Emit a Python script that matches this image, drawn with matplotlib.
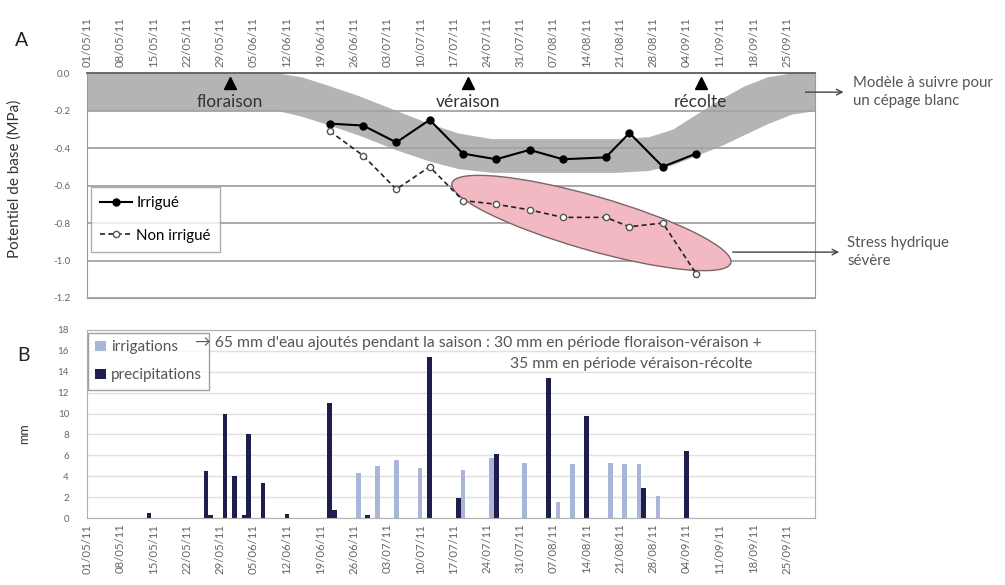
import datetime as dt

import numpy as np
import matplotlib.pyplot as plt
import matplotlib.dates as mdates
from matplotlib.patches import Ellipse
from matplotlib.transforms import ScaledTranslation

plt.rcParams["font.family"] = ["Lato", "DejaVu Sans"]

YEAR = 2011

# predawn leaf water potential (MPa), weekly measurements
SAMPLE_DAYS = ["21/06", "28/06", "05/07", "12/07", "19/07", "26/07",
               "02/08", "09/08", "18/08", "23/08", "30/08", "06/09"]
IRRIGATED = [-0.27, -0.28, -0.37, -0.25, -0.43, -0.46,
             -0.41, -0.46, -0.45, -0.32, -0.50, -0.43]
NON_IRRIGATED = [-0.31, -0.44, -0.62, -0.50, -0.68, -0.70,
                 -0.73, -0.77, -0.77, -0.82, -0.80, -1.07]

# reference band for a white grape variety
BAND_DAYS = ["01/05", "10/06", "15/06", "20/06", "27/06", "05/07", "12/07",
             "18/07", "25/07", "20/08", "27/08", "01/09", "06/09", "11/09",
             "16/09", "21/09", "26/09", "01/10"]
BAND_TOP = [0.0, 0.0, -0.02, -0.06, -0.12, -0.20, -0.27,
            -0.32, -0.35, -0.35, -0.34, -0.30, -0.22, -0.14,
            -0.07, -0.02, 0.0, 0.0]
BAND_BOTTOM = [-0.20, -0.20, -0.23, -0.27, -0.33, -0.41, -0.47,
               -0.51, -0.53, -0.53, -0.52, -0.49, -0.44, -0.39,
               -0.33, -0.27, -0.22, -0.20]

STAGES = ["floraison", "véraison", "récolte"]
STAGE_DAYS = ["31/05", "20/07", "07/09"]

# water supply (mm)
IRRIG_DAYS = ["27/06", "01/07", "05/07", "10/07", "19/07", "25/07", "01/08",
              "08/08", "11/08", "19/08", "22/08", "25/08", "29/08"]
IRRIG_MM = [4.3, 5.0, 5.6, 4.8, 4.6, 5.7, 5.3, 1.5, 5.2, 5.3, 5.2, 5.2, 2.1]
RAIN_DAYS = ["14/05", "26/05", "27/05", "30/05", "01/06", "03/06", "04/06",
             "07/06", "12/06", "21/06", "22/06", "29/06", "12/07", "18/07",
             "26/07", "06/08", "14/08", "26/08", "04/09"]
RAIN_MM = [0.5, 4.5, 0.3, 10.0, 4.0, 0.3, 8.0, 3.4, 0.4, 11.0, 0.8, 0.3,
           15.4, 1.9, 6.1, 13.4, 9.8, 2.9, 6.4]

# highlighted zone (centre day, centre value)
STRESS_CENTER = ("15/08", -0.80)

TICK_GREY = "#666666"
TEXT_GREY = "#555555"


def to_dates(days):
    return [dt.datetime.strptime(f"{d}/{YEAR}", "%d/%m/%Y") for d in days]


def style_dates(ax):
    ax.set_xlim(dt.datetime(YEAR, 5, 1), dt.datetime(YEAR, 10, 1))
    ax.xaxis.set_major_locator(mdates.WeekdayLocator(byweekday=mdates.SU))
    ax.xaxis.set_major_formatter(mdates.DateFormatter("%d/%m/%y"))
    ax.tick_params(axis="x", labelrotation=90, labelsize=8.2, length=0,
                   colors=TICK_GREY, pad=4)
    ax.tick_params(axis="y", labelsize=7, length=0, colors=TICK_GREY, pad=12)


fig = plt.figure(figsize=(10.05, 5.85), dpi=100)
ax_a = fig.add_axes([0.0866, 0.4906, 0.7244, 0.3846])
ax_b = fig.add_axes([0.0866, 0.1145, 0.7244, 0.3214])

# ---- A: water potential
style_dates(ax_a)
ax_a.xaxis.tick_top()
ax_a.set_ylim(-1.2, 0.0)
ax_a.set_yticks(np.arange(-1.2, 0.01, 0.2))
ax_a.yaxis.set_major_formatter(
    plt.FuncFormatter(lambda v, _: f"{v:.1f}".replace("-0.0", "0.0")))
ax_a.set_axisbelow(True)
ax_a.yaxis.grid(True, color="#a3a3a3", lw=1.3)
for side in ["left", "right", "bottom"]:
    ax_a.spines[side].set_color("#9a9a9a")
ax_a.spines["top"].set_color("#606060")
ax_a.spines["top"].set_linewidth(1.3)

ax_a.fill_between(to_dates(BAND_DAYS), BAND_TOP, BAND_BOTTOM,
                  color="#b4b4b4", lw=0, zorder=0.3)

cx = mdates.date2num(to_dates([STRESS_CENTER[0]])[0])
stress = Ellipse((0, 0), 2.9, 0.54, angle=-16,
                 transform=fig.dpi_scale_trans
                 + ScaledTranslation(cx, STRESS_CENTER[1], ax_a.transData),
                 facecolor="#f2b9c2", edgecolor="#7d6468", lw=1.0, zorder=1.5)
ax_a.add_patch(stress)

samples = to_dates(SAMPLE_DAYS)
ax_a.plot(samples, IRRIGATED, "-o", color="black", lw=1.5, ms=5,
          label="Irrigué", zorder=3)
ax_a.plot(samples, NON_IRRIGATED, "--o", color="#222222", lw=1.2, ms=4.5,
          dashes=(3, 2), mfc="white", mec="#555555", label="Non irrigué",
          zorder=3)

stage_dates = to_dates(STAGE_DAYS)
ax_a.plot(stage_dates, [-0.055] * len(STAGES), "^", color="black", ms=8.5,
          zorder=4)
for name, day in zip(STAGES, stage_dates):
    ax_a.text(day, -0.155, name, ha="center", va="center", fontsize=12.5,
              color="#333333", zorder=4)

leg = ax_a.legend(loc="upper left", bbox_to_anchor=(0.006, 0.494),
                  borderaxespad=0, fontsize=10.8, frameon=True,
                  fancybox=False, handlelength=2.1, borderpad=0.6,
                  labelspacing=1.25, handletextpad=0.3)
leg.get_frame().set_edgecolor("#9a9a9a")
leg.get_frame().set_linewidth(1.0)

ax_a.set_ylabel("Potentiel de base (MPa)", fontsize=11, color="#333333")
ax_a.yaxis.set_label_coords(-0.09, 0.53)

ax_a.annotate("", xy=(1.043, 0.915), xytext=(0.983, 0.915),
              xycoords="axes fraction",
              arrowprops=dict(arrowstyle="->", color="#444444", lw=1.0),
              annotation_clip=False)
ax_a.text(1.052, 0.915, "Modèle à suivre pour\nun cépage blanc",
          transform=ax_a.transAxes, fontsize=10.8, color=TEXT_GREY,
          va="center", ha="left", linespacing=1.35)
ax_a.annotate("", xy=(1.037, 0.204), xytext=(0.883, 0.204),
              xycoords="axes fraction",
              arrowprops=dict(arrowstyle="->", color="#444444", lw=1.0),
              annotation_clip=False)
ax_a.text(1.044, 0.204, "Stress hydrique\nsévère",
          transform=ax_a.transAxes, fontsize=10.8, color=TEXT_GREY,
          va="center", ha="left", linespacing=1.35)

# ---- B: irrigation and rainfall
style_dates(ax_b)
ax_b.set_ylim(0, 18)
ax_b.set_yticks(np.arange(0, 18.1, 2))
ax_b.tick_params(axis="y", pad=13)
ax_b.set_axisbelow(True)
ax_b.yaxis.grid(True, color="#e0e0e0", lw=1.0)
for side in ax_b.spines:
    ax_b.spines[side].set_color("#b0b0b0")

ax_b.bar(to_dates(IRRIG_DAYS), IRRIG_MM, width=1.0, color="#a9b6da",
         label="irrigations", zorder=2)
ax_b.bar(to_dates(RAIN_DAYS), RAIN_MM, width=1.0, color="#1e1e4c",
         label="precipitations", zorder=2)

leg_b = ax_b.legend(loc="upper left", bbox_to_anchor=(0.001, 0.985),
                    borderaxespad=0, fontsize=11, frameon=True,
                    fancybox=False, handlelength=0.7, handleheight=0.7,
                    handletextpad=0.3, borderpad=0.5, labelspacing=0.9)
leg_b.get_frame().set_edgecolor("#8a8a8a")
for t in leg_b.get_texts():
    t.set_color(TEXT_GREY)

ax_b.text(0.148, 0.93,
          "→ 65 mm d'eau ajoutés pendant la saison : 30 mm en période "
          "floraison-véraison +",
          transform=ax_b.transAxes, fontsize=11.3, color=TEXT_GREY,
          va="center", ha="left", zorder=6)
ax_b.text(0.747, 0.82, "35 mm en période véraison-récolte",
          transform=ax_b.transAxes, fontsize=11.3, color=TEXT_GREY,
          va="center", ha="center", zorder=6)

ax_b.set_ylabel("mm", fontsize=9, color="#333333")
ax_b.yaxis.set_label_coords(-0.078, 0.45)

fig.text(0.015, 0.931, "A", fontsize=14, color="#222222", va="center")
fig.text(0.017, 0.393, "B", fontsize=14, color="#222222", va="center")

fig.savefig("out.png", dpi=100, facecolor="white")
